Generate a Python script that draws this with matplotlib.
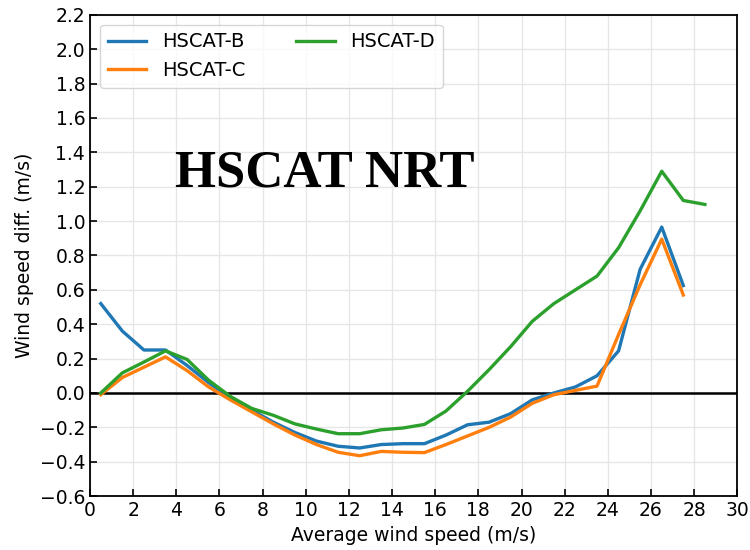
import matplotlib
matplotlib.use("Agg")
import matplotlib.pyplot as plt
import numpy as np

x_b = [0.5, 1.5, 2.5, 3.5, 4.5, 5.5, 6.5, 7.5, 8.5, 9.5, 10.5, 11.5, 12.5, 13.5,
       14.5, 15.5, 16.5, 17.5, 18.5, 19.5, 20.5, 21.5, 22.5, 23.5, 24.5, 25.5, 26.5, 27.5]
hscat_b = [0.52, 0.36, 0.25, 0.25, 0.16, 0.06, -0.03, -0.10, -0.17, -0.23, -0.28, -0.31,
           -0.32, -0.30, -0.295, -0.295, -0.245, -0.185, -0.17, -0.12, -0.04, 0.00,
           0.035, 0.10, 0.245, 0.72, 0.965, 0.625]
x_c = x_b
hscat_c = [-0.01, 0.09, 0.15, 0.21, 0.13, 0.035, -0.04, -0.11, -0.18, -0.245, -0.30, -0.345,
           -0.365, -0.34, -0.345, -0.347, -0.30, -0.25, -0.20, -0.14, -0.06, -0.01,
           0.015, 0.04, 0.34, 0.63, 0.895, 0.57]
x_d = [0.5, 1.5, 2.5, 3.5, 4.5, 5.5, 6.5, 7.5, 8.5, 9.5, 10.5, 11.5, 12.5, 13.5,
       14.5, 15.5, 16.5, 17.5, 18.5, 19.5, 20.5, 21.5, 22.5, 23.5, 24.5, 25.5, 26.5, 27.5, 28.5]
hscat_d = [0.0, 0.117, 0.18, 0.245, 0.195, 0.074, -0.02, -0.09, -0.13, -0.18, -0.21, -0.237,
           -0.237, -0.214, -0.204, -0.183, -0.105, 0.01, 0.136, 0.27, 0.417, 0.52,
           0.60, 0.68, 0.845, 1.06, 1.29, 1.12, 1.097]

fig = plt.figure(figsize=(7.5, 5.5), dpi=100)
ax = fig.add_axes([0.12, 0.098, 0.863, 0.875])
ax.plot(x_b, hscat_b, color="#1f77b4", lw=2.4, label="HSCAT-B")
ax.plot(x_c, hscat_c, color="#ff7f0e", lw=2.4, label="HSCAT-C")
ax.plot(x_d, hscat_d, color="#2ca02c", lw=2.4, label="HSCAT-D")
ax.axhline(0, color="black", lw=1.8, zorder=1)

ax.set_xlim(0, 30)
ax.set_ylim(-0.6, 2.2)
ax.set_xticks(np.arange(0, 31, 2))
ax.set_yticks(np.arange(-0.6, 2.21, 0.2))
ax.set_yticklabels([f"{v:.1f}".replace("-", "\u2212") for v in np.arange(-0.6, 2.21, 0.2)])
ax.grid(True, color="#e6e6e6", lw=1.0)
ax.set_axisbelow(True)
ax.tick_params(direction="in", labelsize=13.5, length=5, width=1.2)
for s in ax.spines.values():
    s.set_linewidth(1.3)
ax.set_xlabel("Average wind speed (m/s)", fontsize=13.5)
ax.set_ylabel("Wind speed diff. (m/s)", fontsize=13.5)
ax.legend(loc="upper left", ncol=2, fontsize=14, handlelength=2.0, columnspacing=2.6)
ax.text(0.363, 0.67, "HSCAT NRT", transform=ax.transAxes, ha="center", va="center",
        fontsize=38, fontweight="bold", family="Liberation Serif")
fig.savefig("out.png", dpi=100)
